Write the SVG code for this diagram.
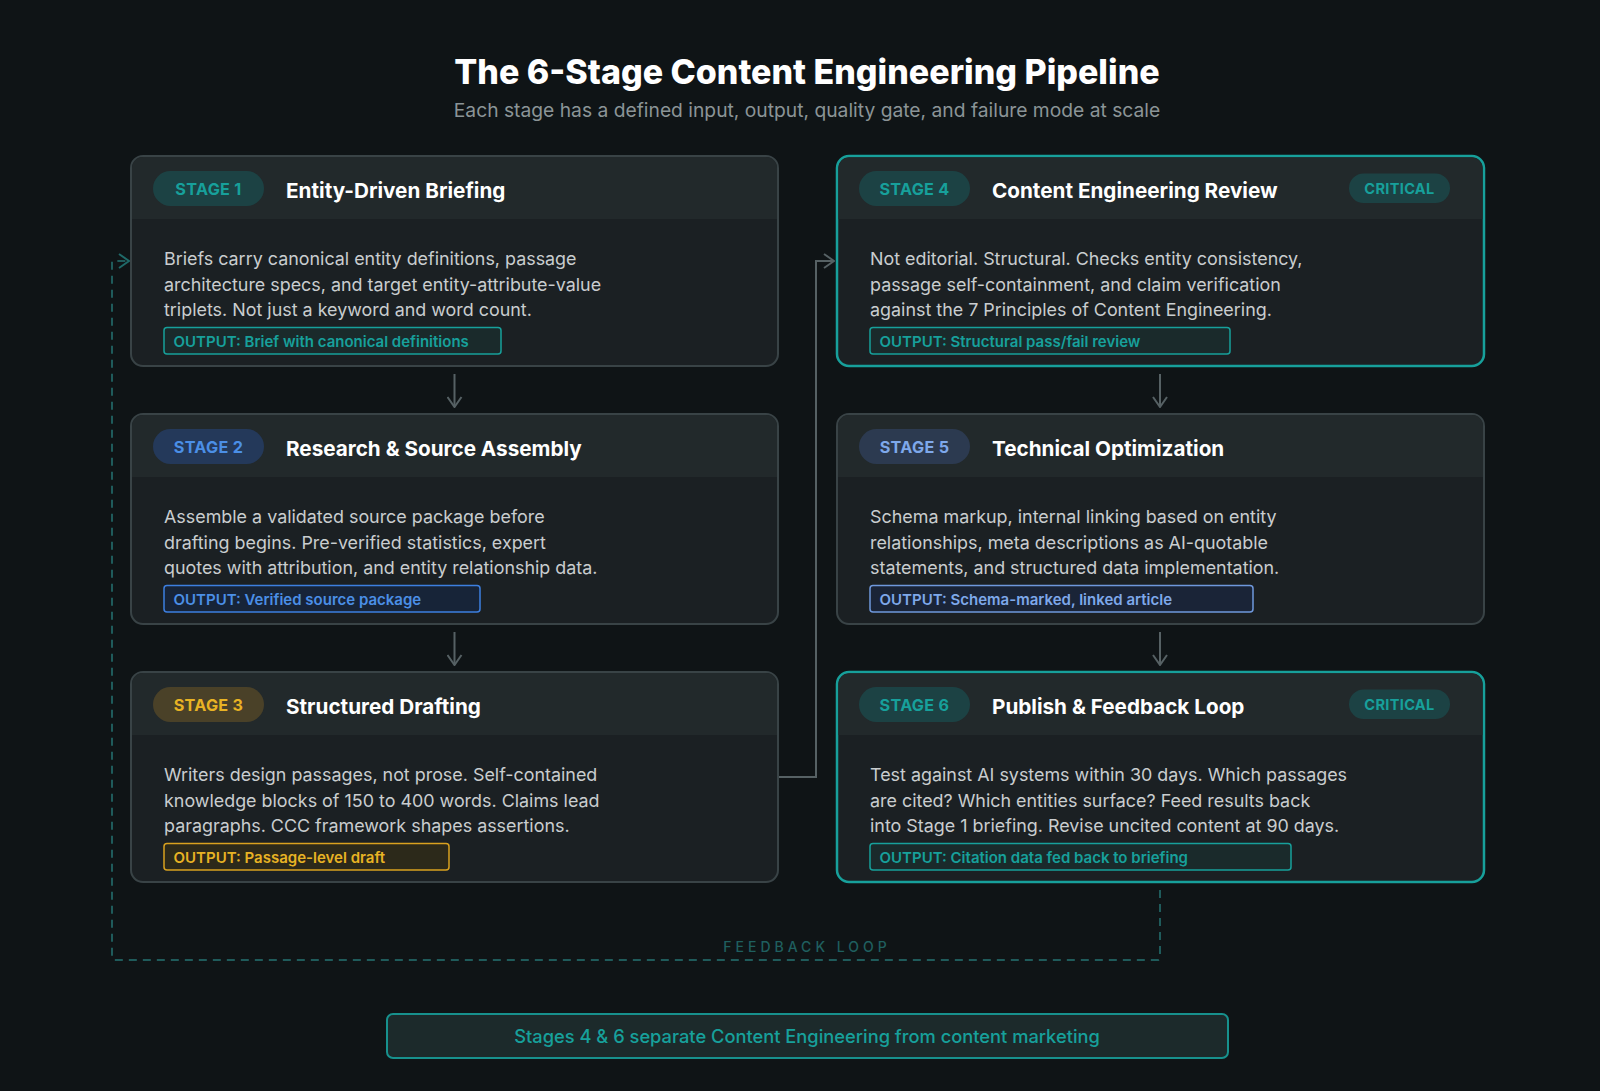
<svg xmlns="http://www.w3.org/2000/svg" width="1600" height="1091" viewBox="0 0 1600 1091">
<defs>
<style>
.bg{fill:#0f1416}
.card{fill:#1b2023;stroke:#394346;stroke-width:2}
.card.crit{stroke:#17a09b;stroke-width:2.5}
.hdr{fill:#22292b}
.pill-t{fill:#1c4244}
.pill-b{fill:#24395a}
.pill-g{fill:#4a4128}
.pill-l{fill:#2c3a50}
.pt{font-family:Inter,"Noto Sans",sans-serif;font-size:16.2px;font-weight:700;text-anchor:middle;letter-spacing:0.3px}
.title{font-family:Inter,"Noto Sans",sans-serif;font-size:20.7px;font-weight:700;fill:#ffffff}
.body{font-family:Inter,"Noto Sans",sans-serif;font-size:17.9px;font-weight:400;fill:#c9cdcf}
.out{font-family:Inter,"Noto Sans",sans-serif;font-size:15px;font-weight:600}
.teal{fill:#17a09b}
.blue{fill:#4b8fe6}
.gold{fill:#e8b324}
.lblue{fill:#7ea8ea}
.ob-t{fill:#1a2a2b;stroke:#17a09b;stroke-width:1.5}
.ob-b{fill:#172438;stroke:#3d7fe0;stroke-width:1.5}
.ob-g{fill:#2c291a;stroke:#d9a11f;stroke-width:1.5}
.ob-l{fill:#1a2437;stroke:#6f98dc;stroke-width:1.5}
.conn{fill:none;stroke:#566164;stroke-width:2}
.fb{fill:none;stroke:#1f5b5b;stroke-width:2;stroke-dasharray:8 6}
</style>
<marker id="ah" viewBox="0 0 12 16" refX="11" refY="8" markerWidth="12" markerHeight="16" markerUnits="userSpaceOnUse" orient="auto">
<path d="M1,1 L11,8 L1,15" fill="none" stroke="#566164" stroke-width="2"/>
</marker>
<marker id="ahf" viewBox="0 0 12 16" refX="11" refY="8" markerWidth="12" markerHeight="16" markerUnits="userSpaceOnUse" orient="auto">
<path d="M1,1 L11,8 L1,15" fill="none" stroke="#1f6a69" stroke-width="2"/>
</marker>
</defs>
<rect class="bg" x="0" y="0" width="1600" height="1091"/>

<g id="title">
<text x="807" y="84" text-anchor="middle" font-family="Inter,'Noto Sans',sans-serif" font-size="34" font-weight="800" fill="#ffffff">The 6-Stage Content Engineering Pipeline</text>
<text x="807" y="117" text-anchor="middle" font-family="Inter,'Noto Sans',sans-serif" font-size="19.25" fill="#8b9497">Each stage has a defined input, output, quality gate, and failure mode at scale</text>
</g>

<g id="connectors">
<path class="conn" d="M454.5,374 V407" marker-end="url(#ah)"/>
<path class="conn" d="M454.5,632 V665" marker-end="url(#ah)"/>
<path class="conn" d="M1160,374 V407" marker-end="url(#ah)"/>
<path class="conn" d="M1160,632 V665" marker-end="url(#ah)"/>
<path class="conn" d="M779,777 H816 V261 H834" marker-end="url(#ah)"/>
<path class="fb" d="M1160,890 V958 Q1160,960 1158,960 H114 Q112,960 112,958 V261 H129" marker-end="url(#ahf)"/>
<text x="807" y="952" text-anchor="middle" font-family="Inter,'Noto Sans',sans-serif" font-size="14" font-weight="500" letter-spacing="4" fill="#1f5f5f">FEEDBACK LOOP</text>
</g>

<g id="stage1" transform="translate(131,156)">
<rect class="card" x="0" y="0" width="647" height="210" rx="12"/>
<path class="hdr" d="M1,63 V12 A11 11 0 0 1 12,1 H635 A11 11 0 0 1 646,12 V63 Z"/>
<rect class="pill-t" x="22" y="15" width="111" height="35" rx="17.5"/>
<text class="pt teal" x="77.5" y="38.8">STAGE 1</text>
<text class="title" x="155" y="41.5">Entity-Driven Briefing</text>
<text class="body" x="33" y="108.5">Briefs carry canonical entity definitions, passage</text>
<text class="body" x="33" y="134.5">architecture specs, and target entity-attribute-value</text>
<text class="body" x="33" y="160">triplets. Not just a keyword and word count.</text>
<rect class="ob-t" x="33" y="171.5" width="337" height="26.5" rx="3"/>
<text class="out teal" x="42.5" y="190.5">OUTPUT: Brief with canonical definitions</text>
</g>

<g id="stage2" transform="translate(131,414)">
<rect class="card" x="0" y="0" width="647" height="210" rx="12"/>
<path class="hdr" d="M1,63 V12 A11 11 0 0 1 12,1 H635 A11 11 0 0 1 646,12 V63 Z"/>
<rect class="pill-b" x="22" y="15" width="111" height="35" rx="17.5"/>
<text class="pt blue" x="77.5" y="38.8">STAGE 2</text>
<text class="title" x="155" y="41.5">Research &amp; Source Assembly</text>
<text class="body" x="33" y="108.5">Assemble a validated source package before</text>
<text class="body" x="33" y="134.5">drafting begins. Pre-verified statistics, expert</text>
<text class="body" x="33" y="160">quotes with attribution, and entity relationship data.</text>
<rect class="ob-b" x="33" y="171.5" width="316" height="26.5" rx="3"/>
<text class="out blue" x="42.5" y="190.5">OUTPUT: Verified source package</text>
</g>

<g id="stage3" transform="translate(131,672)">
<rect class="card" x="0" y="0" width="647" height="210" rx="12"/>
<path class="hdr" d="M1,63 V12 A11 11 0 0 1 12,1 H635 A11 11 0 0 1 646,12 V63 Z"/>
<rect class="pill-g" x="22" y="15" width="111" height="35" rx="17.5"/>
<text class="pt gold" x="77.5" y="38.8">STAGE 3</text>
<text class="title" x="155" y="41.5">Structured Drafting</text>
<text class="body" x="33" y="108.5">Writers design passages, not prose. Self-contained</text>
<text class="body" x="33" y="134.5">knowledge blocks of 150 to 400 words. Claims lead</text>
<text class="body" x="33" y="160">paragraphs. CCC framework shapes assertions.</text>
<rect class="ob-g" x="33" y="171.5" width="285" height="26.5" rx="3"/>
<text class="out gold" x="42.5" y="190.5">OUTPUT: Passage-level draft</text>
</g>

<g id="stage4" transform="translate(837,156)">
<rect class="card crit" x="0" y="0" width="647" height="210" rx="12"/>
<path class="hdr" d="M1.5,63 V12 A10.5 10.5 0 0 1 12,1.5 H635 A10.5 10.5 0 0 1 645.5,12 V63 Z"/>
<rect class="pill-t" x="22" y="15" width="111" height="35" rx="17.5"/>
<text class="pt teal" x="77.5" y="38.8">STAGE 4</text>
<text class="title" x="155" y="41.5">Content Engineering Review</text>
<rect class="pill-t" x="512" y="17.5" width="101" height="29.5" rx="14.75"/>
<text class="pt teal" x="562.5" y="37.5" style="font-size:14.6px">CRITICAL</text>
<text class="body" x="33" y="108.5">Not editorial. Structural. Checks entity consistency,</text>
<text class="body" x="33" y="134.5">passage self-containment, and claim verification</text>
<text class="body" x="33" y="160">against the 7 Principles of Content Engineering.</text>
<rect class="ob-t" x="33" y="171.5" width="360" height="26.5" rx="3"/>
<text class="out teal" x="42.5" y="190.5">OUTPUT: Structural pass/fail review</text>
</g>

<g id="stage5" transform="translate(837,414)">
<rect class="card" x="0" y="0" width="647" height="210" rx="12"/>
<path class="hdr" d="M1,63 V12 A11 11 0 0 1 12,1 H635 A11 11 0 0 1 646,12 V63 Z"/>
<rect class="pill-l" x="22" y="15" width="111" height="35" rx="17.5"/>
<text class="pt lblue" x="77.5" y="38.8">STAGE 5</text>
<text class="title" x="155" y="41.5">Technical Optimization</text>
<text class="body" x="33" y="108.5">Schema markup, internal linking based on entity</text>
<text class="body" x="33" y="134.5">relationships, meta descriptions as AI-quotable</text>
<text class="body" x="33" y="160">statements, and structured data implementation.</text>
<rect class="ob-l" x="33" y="171.5" width="383" height="26.5" rx="3"/>
<text class="out lblue" x="42.5" y="190.5">OUTPUT: Schema-marked, linked article</text>
</g>

<g id="stage6" transform="translate(837,672)">
<rect class="card crit" x="0" y="0" width="647" height="210" rx="12"/>
<path class="hdr" d="M1.5,63 V12 A10.5 10.5 0 0 1 12,1.5 H635 A10.5 10.5 0 0 1 645.5,12 V63 Z"/>
<rect class="pill-t" x="22" y="15" width="111" height="35" rx="17.5"/>
<text class="pt teal" x="77.5" y="38.8">STAGE 6</text>
<text class="title" x="155" y="41.5">Publish &amp; Feedback Loop</text>
<rect class="pill-t" x="512" y="17.5" width="101" height="29.5" rx="14.75"/>
<text class="pt teal" x="562.5" y="37.5" style="font-size:14.6px">CRITICAL</text>
<text class="body" x="33" y="108.5">Test against AI systems within 30 days. Which passages</text>
<text class="body" x="33" y="134.5">are cited? Which entities surface? Feed results back</text>
<text class="body" x="33" y="160">into Stage 1 briefing. Revise uncited content at 90 days.</text>
<rect class="ob-t" x="33" y="171.5" width="421" height="26.5" rx="3"/>
<text class="out teal" x="42.5" y="190.5">OUTPUT: Citation data fed back to briefing</text>
</g>

<g id="note">
<rect x="387" y="1014" width="841" height="44" rx="6" fill="#1c2a2b" stroke="#17918d" stroke-width="2"/>
<text x="807" y="1043" text-anchor="middle" font-family="Inter,'Noto Sans',sans-serif" font-size="18.3" font-weight="500" fill="#17a09b">Stages 4 &amp; 6 separate Content Engineering from content marketing</text>
</g>
</svg>
